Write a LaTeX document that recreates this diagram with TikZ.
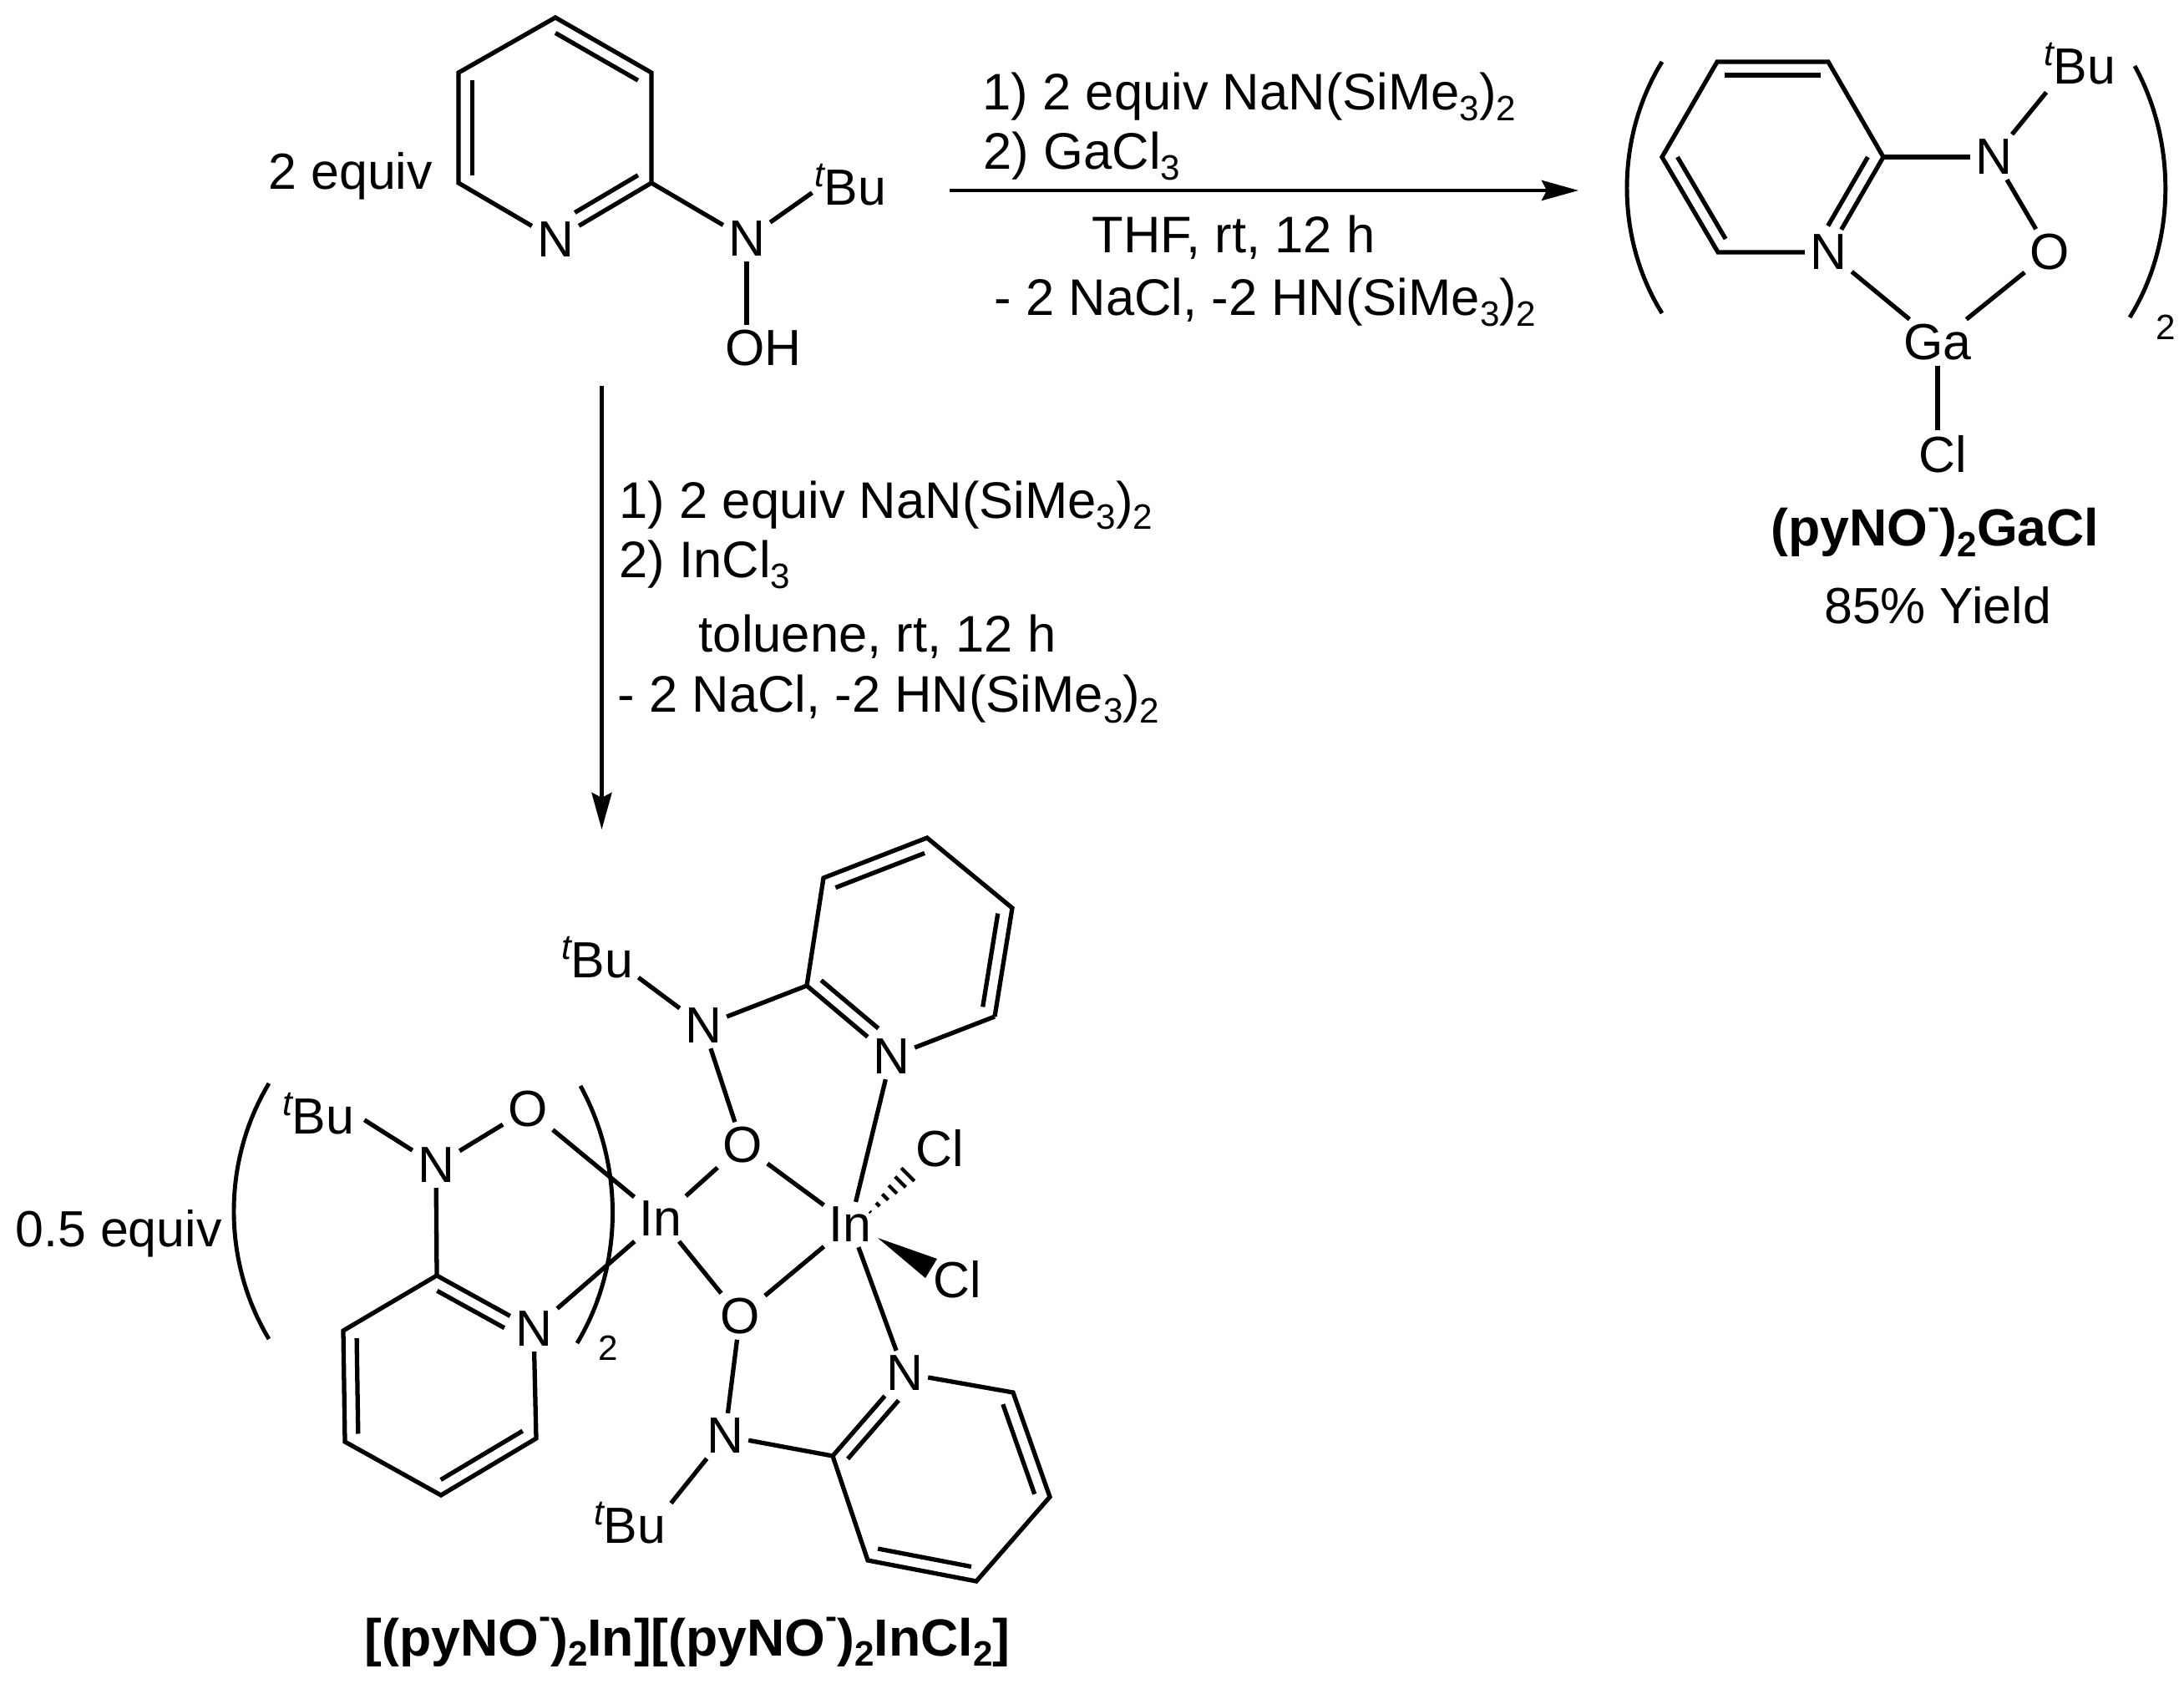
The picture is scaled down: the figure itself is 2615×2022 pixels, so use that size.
\documentclass[tikz,border=0pt]{standalone}
\usepackage{fontspec}
\setmainfont{Liberation Sans}
\usetikzlibrary{arrows.meta, calc}
\newcommand{\lowidx}[1]{\raisebox{-0.2em}{\fontsize{12}{12}\selectfont #1}}
\newcommand{\hiidx}[1]{\raisebox{0.52em}{\fontsize{12}{12}\selectfont #1}}
\newcommand{\tert}{\llap{\smash{\raisebox{0.36em}{\fontsize{12}{12}\selectfont\itshape t}}}}
\newcommand{\innerbond}[4][0pt]{\draw[bond, shorten >=#1] ($(#3)!0.14!(#2)$) -- ($(#4)!0.14!(#2)$);}
\begin{document}
\begin{tikzpicture}[
	x=0.01cm, y=-0.01cm,
	>={Stealth[length=4.4mm, width=2.4mm, inset=0.6mm]},
	every node/.style={font=\fontsize{17.3}{21}\selectfont},
	bond/.style={line width=1.5pt},
	arc/.style={line width=1.4pt},
	arrow/.style={->, line width=1.3pt},
	atom/.style={inner sep=0.055cm},
	txt/.style={anchor=base west, inner sep=0pt},
	ragent/.style={txt, font=\fontsize{17.5}{21}\selectfont},
	ctxt/.style={anchor=base, inner sep=0pt},
	boldtxt/.style={ctxt, font=\fontsize{17.8}{21}\selectfont\bfseries},
	idx/.style={inner sep=0pt, font=\fontsize{12}{12}\selectfont}
	]
	\useasboundingbox (0,0) rectangle (2615,2022);

	% --- Starting material ---
	\coordinate (ca) at (665,153);
	\coordinate (a1) at (665,21);
	\coordinate (a2) at (780,87);
	\coordinate (a3) at (780,219);
	\coordinate (a4) at (549,219);
	\coordinate (a5) at (549,87);
	\node[atom] (Na) at (665,287) {N};
	\node[atom] (Nb) at (894,286) {N};
	\node[atom] (Bua) at (1024,225) {\tert Bu};
	\node[atom] (OH) at (914,417) {OH};
	\node[txt] (eqa) at (321,227) {2 equiv};
	\draw[bond] (a3) -- (a2) -- (a1) -- (a5) -- (a4) -- (Na) -- (a3);
	\innerbond{ca}{a1}{a2}
	\innerbond{ca}{a5}{a4}
	\innerbond[0.27cm]{ca}{a3}{Na}
	\draw[bond] (a3) -- (Nb);
	\draw[bond, shorten >=0.1cm] (Nb) -- (Bua.west);
	\draw[bond] (Nb) -- (Nb |- OH.north);

	% --- Reaction arrows ---
	\coordinate (hs) at (1137,228);
	\coordinate (he) at (1890,228);
	\coordinate (vs) at (720.5,462);
	\coordinate (ve) at (720.5,993);
	\draw[arrow] (hs) -- (he);
	\draw[arrow] (vs) -- (ve);
	\node[ragent] (ga1) at (1176,132) {1) 2 equiv NaN(SiMe\lowidx{3})\lowidx{2}};
	\node[ragent] (ga2) at (1177,203) {2) GaCl\lowidx{3}};
	\node[ragent] (ga3) at (1307,303) {THF, rt, 12 h};
	\node[ragent] (ga4) at (1190,378) {- 2 NaCl, -2 HN(SiMe\lowidx{3})\lowidx{2}};
	\node[ragent] (in1) at (741,621) {1) 2 equiv NaN(SiMe\lowidx{3})\lowidx{2}};
	\node[ragent] (in2) at (741,692) {2) InCl\lowidx{3}};
	\node[ragent] (in3) at (836,781) {toluene, rt, 12 h};
	\node[ragent] (in4) at (739,853) {- 2 NaCl, -2 HN(SiMe\lowidx{3})\lowidx{2}};

	% --- Gallium product ---
	\coordinate (cb) at (2122,188);
	\coordinate (b1) at (2056,74);
	\coordinate (b2) at (2189,74);
	\coordinate (b3) at (2255,188);
	\coordinate (b4) at (2057,302);
	\coordinate (b5) at (1990,188);
	\node[atom] (Nc) at (2189,302) {N};
	\node[atom] (Nd) at (2387,188) {N};
	\node[atom] (Oa) at (2454,302) {O};
	\node[atom] (Ga) at (2320,410) {Ga};
	\node[atom] (Cla) at (2326,544) {Cl};
	\node[atom] (Bub) at (2496,80) {\tert Bu};
	\draw[bond] (b3) -- (b2) -- (b1) -- (b5) -- (b4) -- (Nc) -- (b3);
	\innerbond{cb}{b1}{b2}
	\innerbond{cb}{b5}{b4}
	\innerbond[0.18cm]{cb}{b3}{Nc}
	\draw[bond] (b3) -- (Nd);
	\draw[bond, shorten >=0.04cm] (Nd) -- (Bub.south west);
	\draw[bond] (Nd) -- (Oa) -- (Ga) -- (Nc);
	\draw[bond] (Ga) -- (Ga |- Cla.north);
	\draw[arc] (1990,74) .. controls (1934,165) and (1934,285) .. (1990,375);
	\draw[arc] (2556,79) .. controls (2606,170) and (2606,290) .. (2550,380);
	\node[idx] (twoa) at (2593,392) {2};
	\node[boldtxt] (gal) at (2317,654) {(pyNO\hiidx{-})\lowidx{2}GaCl};
	\node[ctxt] (gay) at (2320,747) {85\% Yield};

	% --- Indium product, upper pyridine ---
	\coordinate (cc) at (1089,1134);
	\coordinate (c1) at (1110,1003);
	\coordinate (c2) at (1212,1087);
	\coordinate (c3) at (1191,1217);
	\coordinate (c4) at (966,1180);
	\coordinate (c5) at (986,1051);
	\node[atom] (Ne) at (1067,1265) {N};
	\node[atom] (Nf) at (842,1228) {N};
	\node[atom] (Buc) at (721,1150) {\tert Bu};
	\node[atom] (Ob) at (889,1371) {O};
	\node[atom] (InL) at (791,1459) {In};
	\node[atom] (InR) at (1018,1466) {In};
	\node[atom] (Clb) at (1125,1375) {Cl};
	\node[atom] (Clc) at (1146,1532) {Cl};
	\draw[bond] (c3) -- (c2) -- (c1) -- (c5) -- (c4) -- (Ne) -- (c3);
	\innerbond{cc}{c5}{c1}
	\innerbond{cc}{c2}{c3}
	\innerbond[0.24cm]{cc}{c4}{Ne}
	\draw[bond] (c4) -- (Nf);
	\draw[bond] (Nf) -- (Buc.-25);
	\draw[bond] (Nf) -- (Ob) -- (InR);
	\draw[bond] (Ob) -- (InL);
	\draw[bond] (Ne) -- (InR);

	% --- Indium product, bridging oxygen and lower pyridine ---
	\coordinate (cd) at (1126,1768);
	\coordinate (d1) at (997,1743);
	\coordinate (d2) at (1213,1667);
	\coordinate (d3) at (1257,1792);
	\coordinate (d4) at (1169,1893);
	\coordinate (d5) at (1039,1868);
	\node[atom] (Ng) at (1083,1644) {N};
	\node[atom] (Nh) at (868,1719) {N};
	\node[atom] (Bud) at (760,1827) {\tert Bu};
	\node[atom] (Oc) at (886,1576) {O};
	\draw[bond] (d1) -- (Ng) -- (d2) -- (d3) -- (d4) -- (d5) -- (d1);
	\innerbond[0.2cm]{cd}{d1}{Ng}
	\innerbond{cd}{d2}{d3}
	\innerbond{cd}{d4}{d5}
	\draw[bond] (Nh) -- (d1);
	\draw[bond] (Nh) -- (Bud.north east);
	\draw[bond] (InR) -- (Oc) -- (Nh);
	\draw[bond] (InL) -- (Oc);
	\draw[bond] (InR) -- (Ng);

	% --- Chlorides on indium ---
	\coordinate (ha) at (1042,1451);
	\coordinate (hb) at (1096,1397);
	\foreach \t [evaluate=\t as \w using \t*0.12+0.01] in {0,0.167,0.333,0.5,0.667,0.833,1.0}
		\draw[line width=1.2pt] ($(ha)!\t!(hb)!\w cm!90:(hb)$) -- ($(ha)!\t!(hb)!\w cm!-90:(hb)$);
	\coordinate (wa) at (1051,1482);
	\coordinate (wb) at (1108,1530);
	\coordinate (wc) at (1122,1507);
	\fill (wa) -- (wb) -- (wc) -- cycle;

	% --- Indium product, left pyridine ---
	\coordinate (ce) at (526,1658);
	\coordinate (e1) at (523,1527);
	\coordinate (e2) at (411,1593);
	\coordinate (e3) at (413,1726);
	\coordinate (e4) at (528,1790);
	\coordinate (e5) at (642,1722);
	\node[atom] (Ni) at (639,1591) {N};
	\node[atom] (Nj) at (522,1395) {N};
	\node[atom] (Bue) at (387,1337) {\tert Bu};
	\node[atom] (Od) at (632,1328) {O};
	\draw[bond] (Ni) -- (e1) -- (e2) -- (e3) -- (e4) -- (e5) -- (Ni);
	\innerbond[0.22cm]{ce}{e1}{Ni}
	\innerbond{ce}{e2}{e3}
	\innerbond{ce}{e4}{e5}
	\draw[bond] (e1) -- (Nj);
	\draw[bond, shorten >=0.07cm] (Nj) -- (Bue.east);
	\draw[bond] (Nj) -- (Od) -- (InL);
	\draw[bond] (Ni) -- (InL);
	\draw[arc] (322,1297) .. controls (266,1390) and (266,1510) .. (322,1603);
	\draw[arc] (695,1300) .. controls (747,1395) and (747,1515) .. (691,1608);
	\node[idx] (twob) at (728,1614) {2};
	\node[txt] (eqb) at (18,1492) {0.5 equiv};
	\node[boldtxt] (inl) at (823,1982) {[(pyNO\hiidx{-})\lowidx{2}In][(pyNO\hiidx{-})\lowidx{2}InCl\lowidx{2}]};
\end{tikzpicture}
\end{document}
